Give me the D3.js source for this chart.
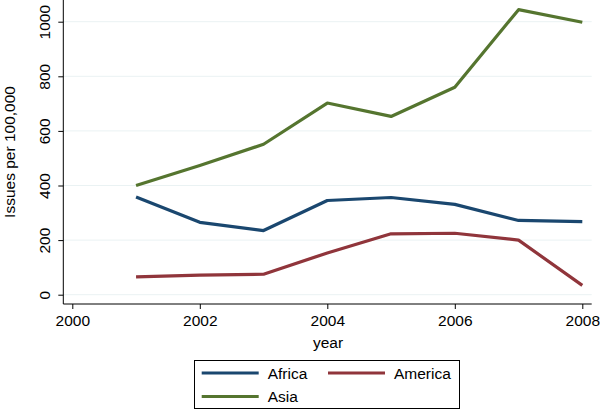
<!DOCTYPE html>
<html>
<head>
<meta charset="utf-8">
<script src="https://cdn.jsdelivr.net/npm/d3@7"></script>
<style>
  body { margin: 0; background: #fff; }
  svg { font-family: "Liberation Sans", Arial, sans-serif; }
</style>
</head>
<body>
<svg id="chart" width="600" height="410"></svg>
<script>
const years = [2001, 2002, 2003, 2004, 2005, 2006, 2007, 2008];
const africa = [358, 265, 235, 345, 356, 331, 272, 268];
const america = [65, 72, 75, 153, 223, 225, 200, 34];
const asia = [400, 473, 551, 702, 653, 760, 1044, 998];
const seriesNames = ["Africa", "America", "Asia"];
const xTicks = [2000, 2002, 2004, 2006, 2008];
const yTicks = [0, 200, 400, 600, 800, 1000];

const colors = ["#1a476f", "#90353b", "#55752f"];
const fontSize = "15.5px";
const svg = d3.select("#chart");

// plot region: y axis at 63, x axis at 304
const x = d3.scaleLinear().domain([2000, 2008]).range([72.3, 582.3]);
const y = d3.scaleLinear().domain([0, 1000]).range([294.7, 21.7]);
const plotLeft = 63.3, plotRight = 591.7, plotTop = 0, plotBottom = 304;

// grid lines
svg.append("g")
  .selectAll("line")
  .data(yTicks)
  .join("line")
  .attr("x1", plotLeft)
  .attr("x2", plotRight)
  .attr("y1", (d) => y(d))
  .attr("y2", (d) => y(d))
  .attr("stroke", "#eaf2f3")
  .attr("stroke-width", 1);

// y axis
const yAxis = svg.append("g")
  .attr("transform", `translate(${plotLeft},0)`)
  .call(d3.axisLeft(y).tickValues(yTicks).tickFormat(d3.format("d")).tickSize(5).tickSizeOuter(0));
yAxis.select(".domain").remove();
yAxis.append("line")
  .attr("y1", plotTop).attr("y2", plotBottom)
  .attr("stroke", "#000").attr("stroke-width", 1);
yAxis.selectAll(".tick text")
  .attr("transform", "rotate(-90)")
  .attr("x", 0)
  .attr("dy", 0)
  .attr("y", -13)
  .style("text-anchor", "middle")
  .style("font-size", fontSize)
  .attr("fill", "#000");
yAxis.selectAll(".tick line").attr("stroke", "#000");

// x axis
const xAxis = svg.append("g")
  .attr("transform", `translate(0,${plotBottom})`)
  .call(d3.axisBottom(x).tickValues(xTicks).tickFormat(d3.format("d")).tickSize(5).tickPadding(6));
xAxis.select(".domain").remove();
xAxis.append("line")
  .attr("x1", plotLeft).attr("x2", plotRight)
  .attr("stroke", "#000").attr("stroke-width", 1);
xAxis.selectAll(".tick text")
  .style("font-size", fontSize)
  .attr("fill", "#000");
xAxis.selectAll(".tick line").attr("stroke", "#000");

// axis titles
svg.append("text")
  .attr("x", 328)
  .attr("y", 348)
  .attr("text-anchor", "middle")
  .style("font-size", fontSize)
  .text("year");
svg.append("text")
  .attr("transform", "translate(15,152) rotate(-90)")
  .attr("text-anchor", "middle")
  .style("font-size", fontSize)
  .text("Issues per 100,000");

// lines
const allSeries = [africa, america, asia];
const line = d3.line()
  .x((d, i) => x(years[i]))
  .y((d) => y(d));
svg.append("g")
  .selectAll("path")
  .data(allSeries)
  .join("path")
  .attr("d", (d) => line(d))
  .attr("fill", "none")
  .attr("stroke", (d, i) => colors[i])
  .attr("stroke-width", 3.2)
  .attr("stroke-linejoin", "round");

// legend
const legend = svg.append("g");
legend.append("rect")
  .attr("x", 194.5).attr("y", 360.5)
  .attr("width", 265).attr("height", 48)
  .attr("fill", "#fff").attr("stroke", "#000").attr("stroke-width", 1);
const legendPos = [
  { x: 201.7, y: 373 },
  { x: 328, y: 373 },
  { x: 201.7, y: 396.5 },
];
seriesNames.forEach((name, i) => {
  const p = legendPos[i];
  legend.append("line")
    .attr("x1", p.x).attr("x2", p.x + 57)
    .attr("y1", p.y).attr("y2", p.y)
    .attr("stroke", colors[i]).attr("stroke-width", 3.2);
  legend.append("text")
    .attr("x", p.x + 66)
    .attr("y", p.y + 5.5)
    .style("font-size", fontSize)
    .text(name);
});
</script>
</body>
</html>
